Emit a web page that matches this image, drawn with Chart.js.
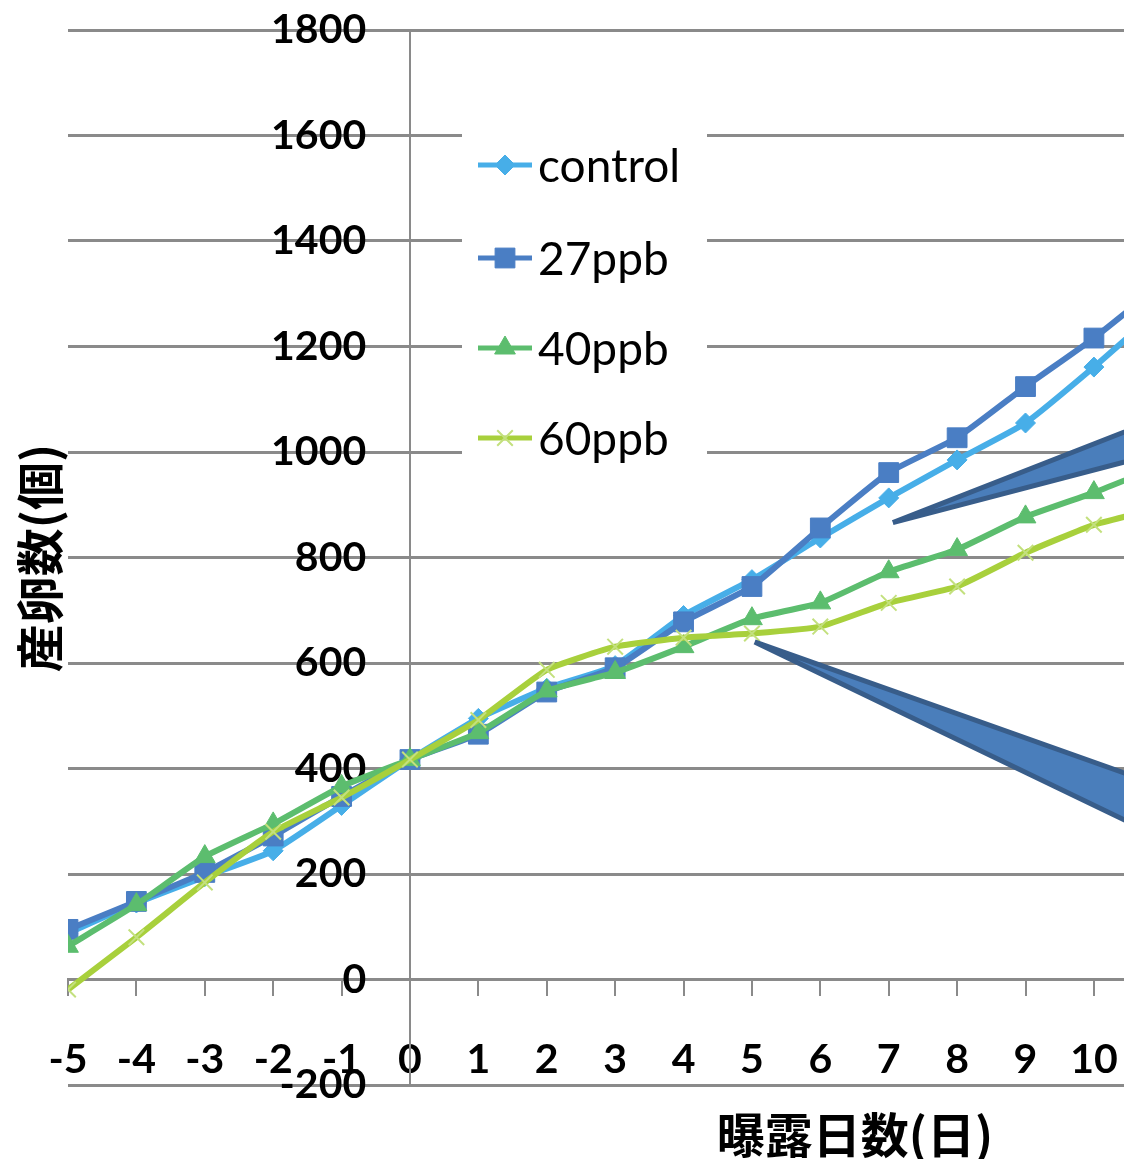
<!DOCTYPE html>
<html><head><meta charset="utf-8">
<script src="https://cdn.jsdelivr.net/npm/chart.js@4.4.1/dist/chart.umd.min.js"></script>
<style>html,body{margin:0;padding:0;background:#fff;overflow:hidden;}#wrap{width:1124px;height:1159px;position:relative;overflow:hidden;}</style>
</head><body><div id="wrap"><canvas id="c" width="1139" height="1159"></canvas></div>
<script>
// ---- data ----
const days = [-5,-4,-3,-2,-1,0,1,2,3,4,5,6,7,8,9,10,11];
const control = [88,145,195,244,330,417,495,552,595,690,758,837,913,985,1055,1161,1275];
const ppb27   = [95,148,203,272,347,417,465,545,591,678,745,856,961,1027,1124,1216,1320];
const ppb40   = [63,142,233,295,366,417,468,547,582,631,684,714,773,815,877,923,975];
const ppb60   = [-19,80,184,280,345,417,492,587,631,648,656,669,714,745,809,862,895];
const seriesNames = ['control','27ppb','40ppb','60ppb'];
const xTickValues = [-5,-4,-3,-2,-1,0,1,2,3,4,5,6,7,8,9,10];
const yMin = -200, yMax = 1800, yStep = 200;
const xMin = -5, xMax = 10.44;
const yLabelAnchorX = -0.64;
const xTitle = '曝露日数(日)';
const yTitle = '産卵数(個)';
const calloutUpperX = [7.06, 11, 11, 7.06];
const calloutUpperY = [866, 1066, 1000, 866];
const calloutLowerX = [5.04, 11, 11, 5.04];
const calloutLowerY = [640, 366, 268, 640];

const pts = (xs, ys) => xs.map((x, i) => ({x, y: ys[i]}));

const styles = [
  {color:'#47aee8', point:'rectRot', r:10, pb:'#47aee8', pbc:'#47aee8', bw:1},
  {color:'#4a7ec4', point:'rect', r:14, pb:'#4a7ec4', pbc:'#4a7ec4', bw:1},
  {color:'#5cbd6e', point:'triangle', r:12, pb:'#5cbd6e', pbc:'#5cbd6e', bw:1},
  {color:'#a8d03c', point:'crossRot', r:11, pb:'#c3e07e', pbc:'#c3e07e', bw:2}
];
const seriesData = [control, ppb27, ppb40, ppb60];

const datasets = seriesData.map((arr, i) => ({
  label: seriesNames[i],
  data: pts(days, arr),
  borderColor: styles[i].color,
  backgroundColor: styles[i].color,
  borderWidth: 6,
  pointStyle: styles[i].point,
  pointRadius: styles[i].r,
  pointBackgroundColor: styles[i].pb,
  pointBorderColor: styles[i].pbc,
  pointBorderWidth: styles[i].bw,
  tension: 0.15,
  fill: false,
  order: 10 - i
}));
[[calloutUpperX, calloutUpperY],[calloutLowerX, calloutLowerY]].forEach(([xs, ys]) => {
  datasets.push({
    label: '_callout',
    data: pts(xs, ys),
    borderColor: '#385d8a',
    backgroundColor: '#4a7ebb',
    borderWidth: 5,
    pointRadius: 0,
    tension: 0,
    fill: 'shape',
    order: 0
  });
});

function drawMarker(ctx, style, x, y, r, fill, stroke, bw) {
  ctx.save();
  ctx.fillStyle = fill; ctx.strokeStyle = stroke; ctx.lineWidth = bw;
  ctx.beginPath();
  if (style === 'rect') {
    const s = Math.SQRT1_2 * r;
    ctx.rect(x - s, y - s, 2 * s, 2 * s); ctx.fill(); ctx.stroke();
  } else if (style === 'rectRot') {
    ctx.moveTo(x, y - r); ctx.lineTo(x + r, y); ctx.lineTo(x, y + r); ctx.lineTo(x - r, y); ctx.closePath(); ctx.fill(); ctx.stroke();
  } else if (style === 'triangle') {
    const h = r * 1.5, w = r * Math.sqrt(3);
    ctx.moveTo(x, y - r); ctx.lineTo(x + w / 2, y - r + h); ctx.lineTo(x - w / 2, y - r + h); ctx.closePath(); ctx.fill(); ctx.stroke();
  } else {
    const s = Math.SQRT1_2 * r;
    ctx.moveTo(x - s, y - s); ctx.lineTo(x + s, y + s); ctx.moveTo(x + s, y - s); ctx.lineTo(x - s, y + s); ctx.stroke();
  }
  ctx.restore();
}

const decor = {
  id: 'decor',
  afterDraw(chart) {
    const ctx = chart.ctx;
    ctx.save();
    // legend
    ctx.fillStyle = '#ffffff';
    ctx.fillRect(462, 127, 245, 358);
    const ys = [165, 258, 348, 438];
    chart.data.datasets.slice(0, 4).forEach((ds, i) => {
      const y = ys[i];
      ctx.strokeStyle = ds.borderColor; ctx.lineWidth = 5;
      ctx.beginPath(); ctx.moveTo(478, y); ctx.lineTo(532, y); ctx.stroke();
      drawMarker(ctx, ds.pointStyle, 505, y, ds.pointRadius, ds.pointBackgroundColor, ds.pointBorderColor, ds.pointBorderWidth);
      ctx.fillStyle = '#000'; ctx.font = '46px Lato'; ctx.textBaseline = 'middle'; ctx.textAlign = 'left';
      ctx.fillText(ds.label, 538, y + 2);
    });
    // axis titles
    ctx.fillStyle = '#000';
    ctx.font = 'bold 48px "Noto Sans CJK JP"';
    ctx.textAlign = 'center'; ctx.textBaseline = 'middle';
    ctx.fillText(xTitle, 855, 1135);
    ctx.translate(40, 558); ctx.rotate(-Math.PI / 2);
    ctx.fillText(yTitle, 0, 0);
    ctx.restore();
  }
};

const zeroFit = (s) => {
  if (s.isHorizontal()) s.height = 0; else s.width = 0;
  s.paddingTop = 0; s.paddingBottom = 0; s.paddingLeft = 0; s.paddingRight = 0;
};
const tickFont = { family: 'Lato', weight: 'bold', size: 41 };

new Chart(document.getElementById('c'), {
  type: 'line',
  data: { datasets },
  plugins: [decor],
  options: {
    responsive: false,
    devicePixelRatio: 1,
    animation: false,
    events: [],
    layout: { padding: { left: 68, top: 30, right: 0, bottom: 74 } },
    plugins: { legend: { display: false }, tooltip: { enabled: false } },
    scales: {
      x: {
        type: 'linear', min: xMin, max: xMax,
        position: { y: 0 },
        afterBuildTicks: s => { s.ticks = xTickValues.map(v => ({ value: v })); },
        afterFit: zeroFit,
        grid: { drawOnChartArea: false, drawTicks: true, tickLength: 15, color: '#8a8a8a', lineWidth: 2 },
        border: { display: true, color: '#8a8a8a', width: 3 },
        ticks: { font: tickFont, color: '#000', padding: 41, autoSkip: false, maxRotation: 0, callback: v => String(v) }
      },
      y: {
        type: 'linear', min: yMin, max: yMax,
        position: { x: 0 },
        afterFit: zeroFit,
        grid: { drawTicks: false, color: '#8a8a8a', lineWidth: 3 },
        border: { display: true, color: '#8a8a8a', width: 2 },
        ticks: { display: false, stepSize: yStep }
      },
      yLabels: {
        type: 'linear', axis: 'y', min: yMin, max: yMax,
        position: { x: yLabelAnchorX },
        afterFit: zeroFit,
        grid: { display: false, drawTicks: false },
        border: { display: false },
        ticks: { stepSize: yStep, font: tickFont, color: '#000', padding: 0, callback: v => String(v) }
      }
    }
  }
});
</script></body></html>
